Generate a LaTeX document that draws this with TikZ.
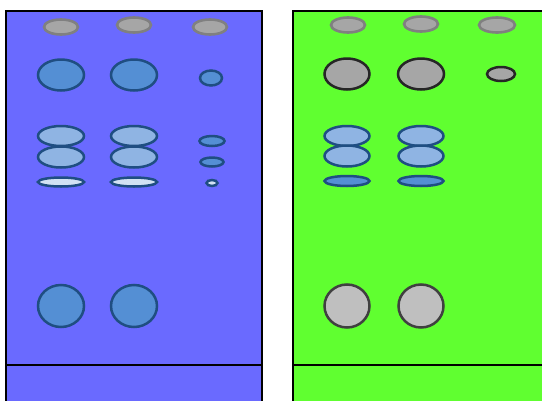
\documentclass[tikz,border=0pt]{standalone}
\begin{document}
\begin{tikzpicture}[x=1pt,y=-1pt,
  panel/.style={line width=2.8pt,draw=black},
  origin/.style={fill=gray!70,draw=gray,line width=2.6pt},
  bluespot/.style={fill=spotblue,draw=spotedge,line width=2.5pt},
  lightspot/.style={fill=lightblue,draw=spotedge,line width=2.5pt},
  paleSpot/.style={fill=paleblue,draw=spotedge,line width=2.5pt},
  darkgray/.style={fill=gray!70,draw=black!85,line width=2.5pt},
  lightgray/.style={fill=gray!50,draw=black!75,line width=2.5pt}]
\definecolor{bgblue}{HTML}{6A6AFF}
\definecolor{bggreen}{HTML}{60FF30}
\definecolor{spotblue}{HTML}{548FD4}
\definecolor{spotedge}{HTML}{1F4E82}
\definecolor{lightblue}{HTML}{8FB4E3}
\definecolor{paleblue}{HTML}{D2E2F4}
\useasboundingbox (0,0) rectangle (542,400);
\fill[white] (0,0) rectangle (542,400);
% left plate
\fill[bgblue] (6,11) rectangle (262,402);
\draw[panel] (6,402) -- (6,11) -- (262,11) -- (262,402);
\draw[panel] (6,365) -- (262,365);
% right plate
\fill[bggreen] (293,11) rectangle (545,402);
\draw[panel] (293,402) -- (293,11) -- (545,11);
\draw[panel] (293,365) -- (545,365);
% left plate spots
\foreach \x/\y in {61/27,134/25,210/27} \draw[origin] (\x,\y) ellipse [x radius=17,y radius=7.5];
\draw[bluespot] (61,75) ellipse [x radius=23,y radius=15.5];
\draw[bluespot] (134,75) ellipse [x radius=23,y radius=15.5];
\draw[bluespot] (211,78) ellipse [x radius=11,y radius=7.5];
\foreach \x in {61,134}{
  \draw[lightspot] (\x,136) ellipse [x radius=23,y radius=10];
  \draw[lightspot] (\x,157) ellipse [x radius=23,y radius=10.5];
  \draw[paleSpot] (\x,182) ellipse [x radius=23,y radius=4.5];
  \draw[bluespot] (\x,306) ellipse [x radius=23,y radius=21];
}
\draw[bluespot] (212,141) ellipse [x radius=12.5,y radius=5];
\draw[bluespot] (212,162) ellipse [x radius=11.5,y radius=4.5];
\draw[paleSpot] (212,183) ellipse [x radius=5.5,y radius=3];
% right plate spots
\draw[origin] (348,25) ellipse [x radius=17,y radius=7.5];
\draw[origin] (421,24) ellipse [x radius=17,y radius=7.5];
\draw[origin] (497,25) ellipse [x radius=18,y radius=7.5];
\draw[darkgray] (347,74) ellipse [x radius=22.5,y radius=15.5];
\draw[darkgray] (421,74) ellipse [x radius=23,y radius=15.5];
\draw[darkgray] (501,74) ellipse [x radius=14,y radius=7];
\foreach \x in {347,421}{
  \draw[lightspot] (\x,136) ellipse [x radius=22.5,y radius=10];
  \draw[lightspot] (\x,156) ellipse [x radius=22.5,y radius=10.5];
  \draw[bluespot] (\x,181) ellipse [x radius=22.5,y radius=5];
  \draw[lightgray] (\x,306) ellipse [x radius=22.5,y radius=21.5];
}
\end{tikzpicture}
\end{document}
